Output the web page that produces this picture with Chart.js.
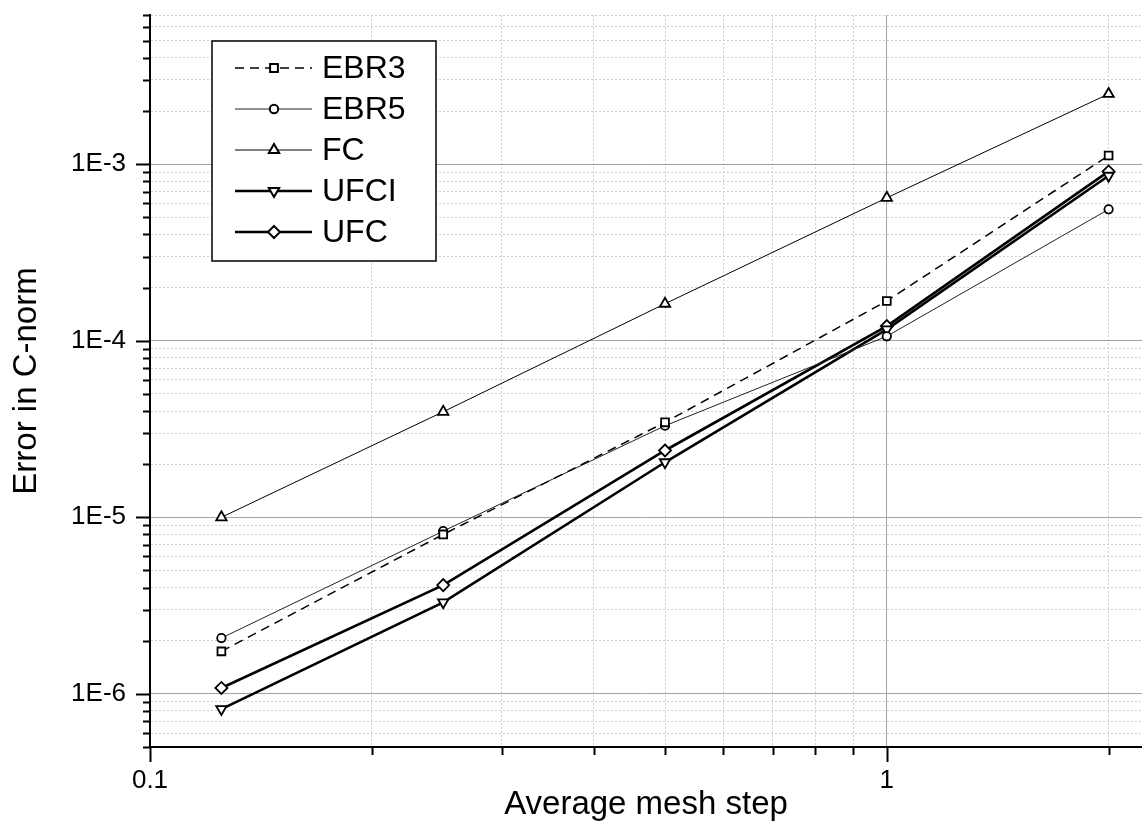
<!DOCTYPE html>
<html>
<head>
<meta charset="utf-8">
<script src="https://cdn.jsdelivr.net/npm/chart.js@4.4.1/dist/chart.umd.min.js"></script>
<style>
    html, body { margin: 0; padding: 0; background: #fff; overflow: hidden; }
    canvas { display: block; }
</style>
</head>
<body>
<canvas id="chart" width="1142" height="821"></canvas>
<script>
// values
const meshStep = [0.125, 0.25, 0.5, 1, 2];
const ebr3 = [1.74e-6, 8.0e-6, 3.45e-5, 1.68e-4, 1.12e-3];
const ebr5 = [2.07e-6, 8.35e-6, 3.3e-5, 1.06e-4, 5.55e-4];
const fc   = [1.0e-5, 3.96e-5, 1.62e-4, 6.45e-4, 2.5e-3];
const ufci = [8.2e-7, 3.3e-6, 2.05e-5, 1.16e-4, 8.6e-4];
const ufc  = [1.08e-6, 4.13e-6, 2.39e-5, 1.21e-4, 9.1e-4];
const seriesNames = ['EBR3', 'EBR5', 'FC', 'UFCI', 'UFC'];

const xMajorTicks = [0.1, 1];
const xTickLabels = ['0.1', '1'];
const yMajorTicks = [1e-7, 1e-6, 1e-5, 1e-4, 1e-3];
const yTickLabels = ['1E-7', '1E-6', '1E-5', '1E-4', '1E-3'];
const xRange = [0.1, 2.22];
const yRange = [5e-7, 7e-3];

const FONT = '"Liberation Sans", Arial, sans-serif';
Chart.defaults.font.family = FONT;
Chart.defaults.color = '#000';

function isMajor(v) {
    const l = Math.log10(v);
    return Math.abs(l - Math.round(l)) < 1e-9;
}

// 1..9 times each decade, kept inside the axis range
function allTicks(majors, range) {
    const out = [];
    majors.forEach(m => {
        for (let k = 1; k <= 9; k++) {
            const v = +(m * k).toPrecision(6);
            if (v >= range[0] * 0.9999 && v <= range[1] * 1.0001) out.push(v);
        }
    });
    return out;
}

function labelFor(v, majors, labels) {
    const i = majors.findIndex(m => Math.abs(m - v) / m < 1e-6);
    return i >= 0 ? labels[i] : '';
}

function toPoints(ys) {
    return meshStep.map((x, i) => ({ x: x, y: ys[i] }));
}

const styles = [
    { data: ebr3, borderWidth: 1.5, borderDash: [9, 6], pointStyle: 'rect', pointRadius: 5.5, rotation: 0, color: '#000' },
    { data: ebr5, borderWidth: 1, borderDash: [], pointStyle: 'circle', pointRadius: 4.2, rotation: 0, color: '#222' },
    { data: fc, borderWidth: 1, borderDash: [], pointStyle: 'triangle', pointRadius: 6, rotation: 0, color: '#000' },
    { data: ufci, borderWidth: 2.6, borderDash: [], pointStyle: 'triangle', pointRadius: 6, rotation: 180, color: '#000' },
    { data: ufc, borderWidth: 2.6, borderDash: [], pointStyle: 'rectRot', pointRadius: 6, rotation: 0, color: '#000' }
];

const datasets = styles.map((s, i) => ({
    label: seriesNames[i],
    data: toPoints(s.data),
    borderColor: s.color,
    borderWidth: s.borderWidth,
    borderDash: s.borderDash,
    backgroundColor: '#fff',
    pointStyle: s.pointStyle,
    pointRotation: s.rotation,
    pointRadius: s.pointRadius,
    pointBackgroundColor: '#fff',
    pointBorderColor: '#000',
    pointBorderWidth: 1.8,
    fill: false,
    tension: 0
}));

// axis tick marks: long for decades, short for the rest
const tickMarks = {
    id: 'tickMarks',
    afterDraw(chart) {
        const ctx = chart.ctx;
        const area = chart.chartArea;
        const xs = chart.scales.x, ys = chart.scales.y;
        ctx.save();
        ctx.strokeStyle = '#000';
        ctx.lineWidth = 2;
        ctx.beginPath();
        ys.ticks.forEach(t => {
            const py = Math.round(ys.getPixelForValue(t.value)) + 0.5;
            const len = isMajor(t.value) ? 14 : 7;
            ctx.moveTo(area.left - len, py);
            ctx.lineTo(area.left, py);
        });
        xs.ticks.forEach(t => {
            const px = Math.round(xs.getPixelForValue(t.value)) + 0.5;
            const len = isMajor(t.value) ? 15 : 8;
            ctx.moveTo(px, area.bottom);
            ctx.lineTo(px, area.bottom + len);
        });
        ctx.stroke();
        ctx.restore();
    }
};

// boxed legend, line + marker like the original
const boxLegend = {
    id: 'boxLegend',
    afterDraw(chart) {
        const ctx = chart.ctx;
        const box = { x: 212, y: 41, w: 224, h: 220 };
        ctx.save();
        ctx.fillStyle = '#fff';
        ctx.fillRect(box.x, box.y, box.w, box.h);
        ctx.strokeStyle = '#000';
        ctx.lineWidth = 1.5;
        ctx.strokeRect(box.x, box.y, box.w, box.h);

        chart.data.datasets.forEach((ds, i) => {
            const y = 68 + i * 41;
            ctx.save();
            ctx.strokeStyle = ds.borderColor;
            ctx.lineWidth = ds.borderWidth;
            ctx.setLineDash(ds.borderDash || []);
            ctx.beginPath();
            ctx.moveTo(235, y);
            ctx.lineTo(312, y);
            ctx.stroke();
            ctx.setLineDash([]);
            ctx.fillStyle = '#fff';
            ctx.strokeStyle = '#000';
            ctx.lineWidth = 2;
            Chart.helpers.drawPoint(ctx, {
                pointStyle: ds.pointStyle,
                rotation: ds.pointRotation,
                radius: ds.pointRadius,
                borderWidth: 2
            }, 274, y);
            ctx.restore();

            ctx.fillStyle = '#000';
            ctx.font = '32px ' + FONT;
            ctx.textBaseline = 'middle';
            ctx.textAlign = 'left';
            ctx.fillText(ds.label, 322, y + 1);
        });
        ctx.restore();
    }
};

const gridColor = c => (c.tick && isMajor(c.tick.value)) ? '#a3a3a3' : '#d0d0d0';
const gridDash = c => (c.tick && !isMajor(c.tick.value)) ? [2, 2] : [];

new Chart(document.getElementById('chart').getContext('2d'), {
    type: 'line',
    data: { datasets: datasets },
    plugins: [tickMarks, boxLegend],
    options: {
        responsive: false,
        animation: false,
        layout: { autoPadding: false, padding: { top: 15, right: 0, bottom: 0, left: 0 } },
        plugins: {
            legend: { display: false },
            tooltip: { enabled: false }
        },
        scales: {
            x: {
                type: 'logarithmic',
                min: xRange[0],
                max: xRange[1],
                afterBuildTicks: s => { s.ticks = allTicks(xMajorTicks, xRange).map(v => ({ value: v })); },
                afterFit: s => { s.height = 74; s.paddingLeft = 0; s.paddingRight = 0; },
                ticks: {
                    autoSkip: false,
                    maxRotation: 0,
                    padding: 0,
                    font: { size: 26, lineHeight: 1 },
                    callback: v => labelFor(v, xMajorTicks, xTickLabels)
                },
                grid: {
                    drawTicks: true, tickLength: 21, tickColor: 'rgba(0,0,0,0)', tickWidth: 0,
                    color: gridColor, lineWidth: 1
                },
                border: { color: '#000', width: 2, dash: gridDash },
                title: {
                    display: true,
                    text: 'Average mesh step',
                    font: { size: 33, lineHeight: 1 },
                    padding: { top: 0, bottom: 0 }
                }
            },
            y: {
                type: 'logarithmic',
                min: yRange[0],
                max: yRange[1],
                afterBuildTicks: s => { s.ticks = allTicks(yMajorTicks, yRange).map(v => ({ value: v })); },
                afterFit: s => { s.width = 150; s.paddingTop = 0; s.paddingBottom = 0; },
                ticks: {
                    autoSkip: false,
                    padding: 0,
                    font: { size: 26, lineHeight: 1 },
                    callback: v => labelFor(v, yMajorTicks, yTickLabels)
                },
                grid: {
                    drawTicks: true, tickLength: 24, tickColor: 'rgba(0,0,0,0)', tickWidth: 0,
                    color: gridColor, lineWidth: 1
                },
                border: { color: '#000', width: 2, dash: gridDash },
                title: {
                    display: true,
                    text: 'Error in C-norm',
                    font: { size: 33, lineHeight: 1 },
                    padding: { top: 10, bottom: 0 }
                }
            }
        }
    }
});
</script>
</body>
</html>
